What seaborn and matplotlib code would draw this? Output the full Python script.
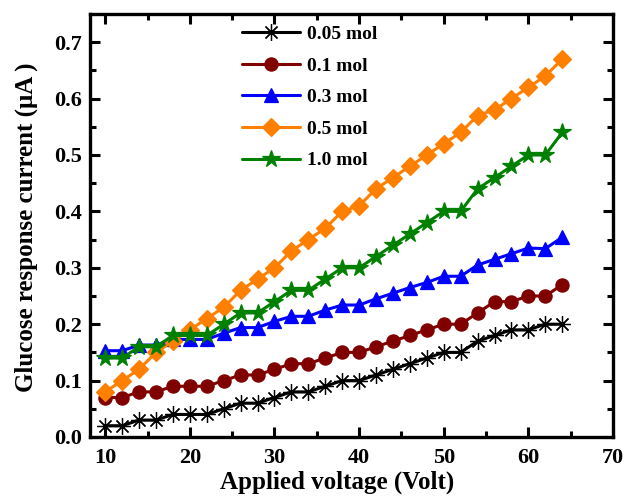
import matplotlib
matplotlib.use("Agg")
import matplotlib.pyplot as plt
from matplotlib.ticker import MultipleLocator, FormatStrFormatter
import pandas as pd
import seaborn as sns

# Applied voltage (V)
voltage = list(range(10, 66, 2))

# Glucose response current (uA) for each concentration
cur_005 = [0.02, 0.02, 0.03, 0.03, 0.04, 0.04, 0.04, 0.05, 0.06, 0.06,
           0.07, 0.08, 0.08, 0.09, 0.10, 0.10, 0.11, 0.12, 0.13, 0.14,
           0.15, 0.15, 0.17, 0.18, 0.19, 0.19, 0.20, 0.20]
cur_01 = [0.07, 0.07, 0.08, 0.08, 0.09, 0.09, 0.09, 0.10, 0.11, 0.11,
          0.12, 0.13, 0.13, 0.14, 0.15, 0.15, 0.16, 0.17, 0.18, 0.19,
          0.20, 0.20, 0.22, 0.24, 0.24, 0.25, 0.25, 0.27]
cur_03 = [0.153, 0.153, 0.163, 0.163, 0.173, 0.173, 0.173, 0.184, 0.194, 0.194,
          0.205, 0.214, 0.214, 0.225, 0.234, 0.234, 0.245, 0.255, 0.265, 0.274,
          0.285, 0.285, 0.305, 0.315, 0.325, 0.335, 0.334, 0.354]
cur_05 = [0.08, 0.10, 0.12, 0.15, 0.17, 0.19, 0.21, 0.23, 0.26, 0.28,
          0.30, 0.33, 0.35, 0.37, 0.40, 0.41, 0.44, 0.46, 0.48, 0.50,
          0.52, 0.54, 0.57, 0.58, 0.60, 0.62, 0.64, 0.67]
cur_10 = [0.14, 0.14, 0.16, 0.16, 0.18, 0.18, 0.18, 0.20, 0.22, 0.22,
          0.24, 0.26, 0.26, 0.28, 0.30, 0.30, 0.32, 0.34, 0.36, 0.38,
          0.40, 0.40, 0.44, 0.46, 0.48, 0.50, 0.50, 0.54]

labels = ["0.05 mol", "0.1 mol", "0.3 mol", "0.5 mol", "1.0 mol"]
series = [cur_005, cur_01, cur_03, cur_05, cur_10]

colors = ["#000000", "#800000", "#0000ff", "#ff7f00", "#008000"]
markers = [(8, 2, 0), "o", "^", "D", "*"]
msizes = [12, 9.5, 10, 9, 13]

sns.set_style("ticks")
plt.rcParams["font.family"] = ["Liberation Serif", "DejaVu Serif"]
plt.rcParams["font.weight"] = "bold"
plt.rcParams["axes.labelweight"] = "bold"
for key in ["text.color", "axes.labelcolor", "xtick.color", "ytick.color",
            "axes.edgecolor"]:
    plt.rcParams[key] = "black"

fig = plt.figure(figsize=(6.34, 4.99), dpi=100)
ax = fig.add_axes([90 / 634, 1 - 437 / 499, 523 / 634, 423 / 499])

for lab, vals, c, m, ms in zip(labels, series, colors, markers, msizes):
    df = pd.DataFrame({"voltage": voltage, "current": vals})
    sns.lineplot(data=df, x="voltage", y="current", ax=ax, color=c,
                 marker=m, markersize=ms, linewidth=2.2,
                 markeredgecolor=c, markerfacecolor=c,
                 markeredgewidth=0.9, label=lab)

ax.set_xlim(8.2, 70)
ax.set_ylim(0, 0.75)
ax.xaxis.set_major_locator(MultipleLocator(10))
ax.xaxis.set_minor_locator(MultipleLocator(5))
ax.yaxis.set_major_locator(MultipleLocator(0.1))
ax.yaxis.set_minor_locator(MultipleLocator(0.05))
ax.yaxis.set_major_formatter(FormatStrFormatter("%.1f"))

for s in ax.spines.values():
    s.set_linewidth(2.4)
    s.set_color("black")
    s.set_visible(True)

ax.tick_params(which="both", direction="in", top=True, right=True,
               width=2.2, color="black", labelcolor="black")
ax.tick_params(which="major", length=7, labelsize=16, pad=6)
ax.tick_params(which="minor", length=4)
ax.tick_params(axis="x", which="major", pad=8)

ax.set_xlabel("Applied voltage (Volt)", fontsize=18, fontweight="bold", labelpad=2)
ax.xaxis.label.set_x(0.472)
ax.set_ylabel("Glucose response current (μA )", fontsize=18, fontweight="bold")
ax.yaxis.set_label_coords(-0.099, 0.497)

ax.legend(loc="upper left", bbox_to_anchor=(0.29, 0.973), frameon=False,
          handlelength=3.0, handletextpad=0.35,
          labelspacing=0.72, borderpad=0, borderaxespad=0,
          prop={"weight": "bold", "size": 14})

fig.savefig("out.png", dpi=100)
